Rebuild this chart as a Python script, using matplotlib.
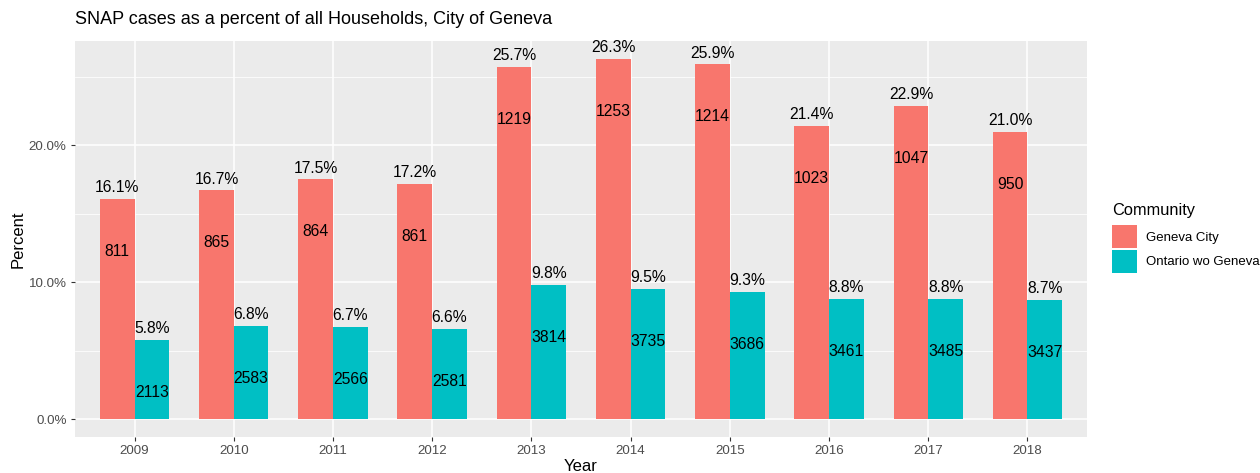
import numpy as np
import matplotlib.pyplot as plt
from matplotlib.patches import Patch
from matplotlib.ticker import FuncFormatter, MultipleLocator

plt.rcParams['font.family'] = ['Liberation Sans', 'DejaVu Sans']

years = ['2009', '2010', '2011', '2012', '2013', '2014', '2015', '2016', '2017', '2018']
geneva_pct = [16.1, 16.7, 17.5, 17.2, 25.7, 26.3, 25.9, 21.4, 22.9, 21.0]
ontario_pct = [5.8, 6.8, 6.7, 6.6, 9.8, 9.5, 9.3, 8.8, 8.8, 8.7]
geneva_n = [811, 865, 864, 861, 1219, 1253, 1214, 1023, 1047, 950]
ontario_n = [2113, 2583, 2566, 2581, 3814, 3735, 3686, 3461, 3485, 3437]
communities = ['Geneva City', 'Ontario wo Geneva']
colors = ['#F8766D', '#00BFC4']

fig = plt.figure(figsize=(12.6, 4.73), dpi=100)
ax = fig.add_axes([75 / 1260, 1 - 437 / 473, 1012 / 1260, 396 / 473])
ax.set_facecolor('#EBEBEB')

x = np.arange(len(years))
w = 0.35
series = [(geneva_pct, geneva_n), (ontario_pct, ontario_n)]
for i, (pct, n) in enumerate(series):
    xs = x - w / 2 + i * w
    ax.bar(xs, pct, width=w, color=colors[i], zorder=3, label=communities[i])
    for xi, p, c in zip(xs, pct, n):
        ax.annotate(f'{p:.1f}%', (xi, p), xytext=(0, 8.2), textcoords='offset points',
                    ha='center', va='center', fontsize=11.3, color='black', zorder=4)
        ax.annotate(str(c), (xi, p), xytext=(0, -37.8), textcoords='offset points',
                    ha='center', va='center', fontsize=11.3, color='black', zorder=4)

ax.set_xlim(-0.6, len(years) - 0.4)
ax.set_ylim(-1.315, 27.615)
ax.set_xticks(x)
ax.set_xticklabels(years)
ax.yaxis.set_major_locator(MultipleLocator(10))
ax.yaxis.set_minor_locator(MultipleLocator(5))
ax.yaxis.set_major_formatter(FuncFormatter(lambda v, _: f'{v:.1f}%'))
ax.grid(which='major', color='white', linewidth=1.1, zorder=0)
ax.grid(which='minor', axis='y', color='white', linewidth=0.55, zorder=0)
ax.set_axisbelow(True)
for s in ax.spines.values():
    s.set_visible(False)
ax.tick_params(which='major', length=3, width=0.8, color='#333333',
               labelsize=9.6, labelcolor='#4D4D4D', pad=3)
ax.tick_params(which='minor', length=0)

ax.set_xlabel('Year', fontsize=12, labelpad=1)
ax.set_ylabel('Percent', fontsize=12, labelpad=2)
fig.text(75 / 1260, 1 - 20 / 473, 'SNAP cases as a percent of all Households, City of Geneva',
         fontsize=13, ha='left', va='center')

handles = [Patch(facecolor=c, label=l) for c, l in zip(colors, communities)]
leg = ax.legend(handles=handles, title='Community', loc='upper left',
                bbox_to_anchor=(1.025, 0.592), frameon=False, fontsize=9.5,
                title_fontsize=11.8, handlelength=1.85, handleheight=2.3,
                labelspacing=0.12, handletextpad=0.7, borderaxespad=0,
                borderpad=0)
leg._legend_box.align = 'left'
leg._legend_box.sep = 5.5

fig.savefig('out.png', dpi=100)
